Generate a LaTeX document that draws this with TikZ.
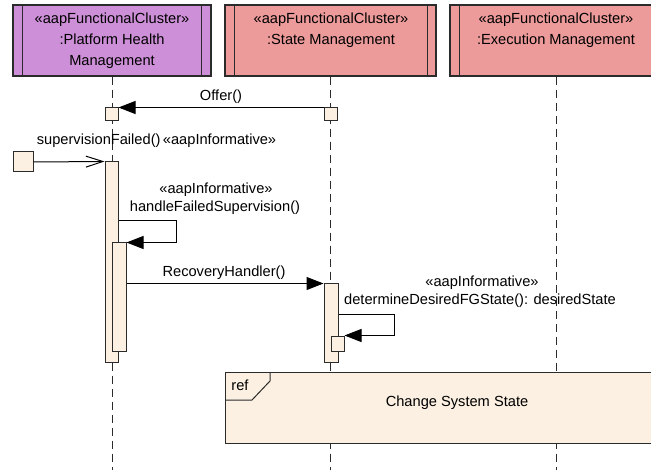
\documentclass[tikz,border=0pt]{standalone}
\usepackage{fontspec}
\setmainfont{Liberation Sans}
\usetikzlibrary{arrows.meta}
\definecolor{phm}{HTML}{CD8FD7}
\definecolor{smc}{HTML}{EC9A9A}
\definecolor{actc}{HTML}{FBF0E1}
\definecolor{edge}{HTML}{2B2B2B}
\tikzset{
  head/.style={draw=edge, line width=1.2bp, minimum height=71bp, inner sep=0pt},
  act/.style={draw=edge, fill=actc, line width=1bp, inner sep=0pt},
  life/.style={draw=edge, dash pattern=on 8bp off 5bp, line width=1bp},
  msg/.style={draw=black, line width=1bp},
  filled/.style={-{Triangle[length=17bp,width=13bp]}},
  openarr/.style={-{Straight Barb[length=17bp,width=11bp]}},
  lbl/.style={inner sep=0pt, text=black},
  headlbl/.style={inner sep=0pt, align=center, anchor=north, font=\fontsize{14.7}{21}\selectfont}
}
\begin{document}
\begin{tikzpicture}[x=1bp, y=-1bp, font=\fontsize{14.7}{20.5}\selectfont]
\useasboundingbox (0,0) rectangle (651,470);
\clip (0,0) rectangle (651,470);
\coordinate (bottom) at (0,480);
% heads
\node[head, fill=phm, minimum width=198bp] (hp) at (112,40.5) {};
\node[head, fill=smc, minimum width=211bp] (hs) at (330.5,40.5) {};
\node[head, fill=smc, minimum width=220bp] (he) at (560,40.5) {};
% lifelines
\draw[life] (hp.south) -- (hp.south |- bottom);
\draw[life] (hs.south) -- (hs.south |- bottom);
\draw[life] ([xshift=-4bp]he.south) -- ([xshift=-4bp]he.south |- bottom);
% head inner bars
\draw[draw=edge, line width=1.2bp] ([xshift=10bp]hp.north west) -- ([xshift=10bp]hp.south west);
\draw[draw=edge, line width=1.2bp] ([xshift=-10bp]hp.north east) -- ([xshift=-10bp]hp.south east);
\draw[draw=edge, line width=1.2bp] ([xshift=10bp]hs.north west) -- ([xshift=10bp]hs.south west);
\draw[draw=edge, line width=1.2bp] ([xshift=-9bp]hs.north east) -- ([xshift=-9bp]hs.south east);
\draw[draw=edge, line width=1.2bp] ([xshift=10bp]he.north west) -- ([xshift=10bp]he.south west);
% head labels
\node[headlbl] (hpl) at (112,12.5) {«aapFunctionalCluster»\\:Platform Health\\Management};
\node[headlbl] (hsl) at (331,12.5) {«aapFunctionalCluster»\\:State Management};
\node[headlbl] (hel) at (556,12.5) {«aapFunctionalCluster»\\:Execution Management};
% ref frame
\node[draw=edge, fill=actc, line width=1bp, minimum width=450bp, minimum height=71bp, inner sep=0pt] (ref) at (450,407.5) {};
\coordinate (tabA) at (270,372);
\coordinate (tabB) at (270,381);
\coordinate (tabC) at (252,400);
\coordinate (tabD) at (225,400);
\draw[draw=edge, line width=1bp] (tabA) -- (tabB) -- (tabC) -- (tabD);
\node[lbl] (reflbl) at (240,385) {ref};
\node[lbl] (css) at (457,403) {Change System State};
% activations
\node[act, minimum width=13bp, minimum height=13bp] (po) at (111.5,114.5) {};
\node[act, minimum width=13bp, minimum height=13bp] (so) at (330.5,114.5) {};
\node[act, minimum width=20bp, minimum height=20bp] (found) at (23,162) {};
\node[act, minimum width=13bp, minimum height=200bp] (pa1) at (111.5,262) {};
\node[act, minimum width=14bp, minimum height=108bp] (pa2) at (119,297) {};
\node[act, minimum width=14bp, minimum height=78bp] (sa1) at (331,323) {};
\node[act, minimum width=13bp, minimum height=15bp] (sa2) at (337.5,343.5) {};
% messages
\draw[msg, filled] (so.north west) -- (po.north east);
\node[lbl] (offl) at (221,97) {Offer()};
\draw[msg, openarr] (found.east) -- (pa1.north west);
\node[lbl] (supl) at (156.5,141) {supervisionFailed()\,«aapInformative»};
\coordinate (hfc) at (176,221);
\draw[msg, filled] (pa1.east |- hfc) -- (hfc) |- (pa2.north east);
\node[lbl] (hfl1) at (216,190) {«aapInformative»};
\node[lbl] (hfl2) at (215,208) {handleFailedSupervision()};
\draw[msg, filled] (pa2.east |- sa1.north) -- (sa1.north west);
\node[lbl] (rhl) at (224,273) {RecoveryHandler()};
\coordinate (ddc) at (394,314);
\draw[msg, filled] (sa1.east |- ddc) -- (ddc) |- (sa2.north east);
\node[lbl] (ddl1) at (482,283) {«aapInformative»};
\node[lbl] (ddl2) at (480,301) {determineDesiredFGState(): desiredState};
\end{tikzpicture}
\end{document}
